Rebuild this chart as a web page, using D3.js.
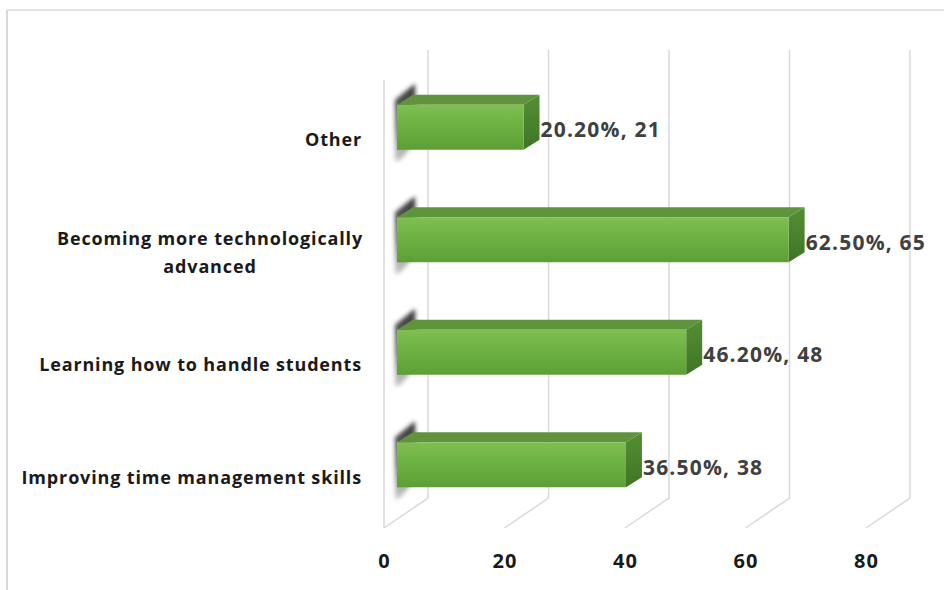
<!DOCTYPE html>
<html>
<head>
<meta charset="utf-8">
<script src="https://cdn.jsdelivr.net/npm/d3@7/dist/d3.min.js"></script>
<style>
  html, body { margin: 0; padding: 0; background: #ffffff; }
  svg { display: block; }
</style>
</head>
<body>
<svg id="chart" width="944" height="590"></svg>
<script>
// Survey responses: share of respondents and head count
const categories = [
  "Other",
  "Becoming more technologically advanced",
  "Learning how to handle students",
  "Improving time management skills"
];
const labelLines = [
  ["Other"],
  ["Becoming more technologically", "advanced"],
  ["Learning how to handle students"],
  ["Improving time management skills"]
];
const counts = [21, 65, 48, 38];
const percents = ["20.20%", "62.50%", "46.20%", "36.50%"];
const ticks = [0, 20, 40, 60, 80];

const svg = d3.select("#chart");
const W = 944, H = 590;
const FONT = "'Open Sans', 'Noto Sans', sans-serif";

// 3D plot geometry: front plane, back wall offset and bar depth slice
const x = d3.scaleLinear().domain([0, 80]).range([384, 866]);
const y = d3.scaleBand().domain(categories).range([71, 521]).paddingInner(0.6).paddingOuter(0.3);
const depth = { dx: 44, dy: -30 };        // front plane -> back wall
const barFront = { dx: 13, dy: 0 };        // bar front face offset from front plane
const barDepth = { dx: 16, dy: -10 };      // bar thickness in depth
const wallTop = 50, wallBottom = 498;

// outer frame (top and left edges)
svg.append("line").attr("x1", 7).attr("y1", 10).attr("x2", W).attr("y2", 10)
  .attr("stroke", "#d9d9d9").attr("stroke-width", 1.5);
svg.append("line").attr("x1", 7).attr("y1", 10).attr("x2", 7).attr("y2", H)
  .attr("stroke", "#d9d9d9").attr("stroke-width", 2);

const defs = svg.append("defs");
const gFront = defs.append("linearGradient").attr("id", "gFront")
  .attr("x1", 0).attr("y1", 0).attr("x2", 0).attr("y2", 1);
gFront.append("stop").attr("offset", "0%").attr("stop-color", "#80bf52");
gFront.append("stop").attr("offset", "45%").attr("stop-color", "#6db143");
gFront.append("stop").attr("offset", "100%").attr("stop-color", "#5e9f35");
const gSide = defs.append("linearGradient").attr("id", "gSide")
  .attr("x1", 0).attr("y1", 0).attr("x2", 0).attr("y2", 1);
gSide.append("stop").attr("offset", "0%").attr("stop-color", "#548f33");
gSide.append("stop").attr("offset", "100%").attr("stop-color", "#3f7526");
const gShadow = defs.append("linearGradient").attr("id", "gShadow")
  .attr("x1", 0).attr("y1", 0).attr("x2", 0).attr("y2", 1);
gShadow.append("stop").attr("offset", "0%").attr("stop-color", "#2a2a2a").attr("stop-opacity", 0.95);
gShadow.append("stop").attr("offset", "55%").attr("stop-color", "#5a5a5a").attr("stop-opacity", 0.85);
gShadow.append("stop").attr("offset", "100%").attr("stop-color", "#a8a8a8").attr("stop-opacity", 0.6);
defs.append("filter").attr("id", "soft").attr("x", "-60%").attr("y", "-30%").attr("width", "220%").attr("height", "160%")
  .append("feGaussianBlur").attr("stdDeviation", 2);

// gridlines: back wall verticals + floor diagonals
const grid = svg.append("g").attr("stroke", "#d9d9d9").attr("stroke-width", 1.5).attr("fill", "none");
ticks.forEach(t => {
  const xf = x(t), xb = x(t) + depth.dx;
  grid.append("path").attr("d", `M${xb},${wallTop} L${xb},${wallBottom} L${xf},${wallBottom - depth.dy}`);
});
// left wall front edge
grid.append("line")
  .attr("x1", x(0)).attr("y1", wallTop - depth.dy)
  .attr("x2", x(0)).attr("y2", wallBottom - depth.dy);

// bars
const bars = svg.append("g");
categories.forEach((c, i) => {
  const v = counts[i];
  const x0 = x(0) + barFront.dx, x1 = x(v) + barFront.dx;
  const yT = y(c), yB = y(c) + y.bandwidth();
  const dx = barDepth.dx, dy = barDepth.dy;
  const g = bars.append("g");
  // dark end cap at the base
  g.append("path")
    .attr("d", `M${x0 - 2},${yT - 5} L${x0 + dx + 2},${yT + dy - 11} L${x0 + dx + 4},${yB + dy} L${x0 + 4},${yB + 10} L${x0 - 2},${yB + 12} Z`)
    .attr("fill", "url(#gShadow)").attr("filter", "url(#soft)");
  // top face
  g.append("path")
    .attr("d", `M${x0},${yT} L${x0 + dx},${yT + dy} L${x1 + dx},${yT + dy} L${x1},${yT} Z`)
    .attr("fill", "#60933d");
  // end face
  g.append("path")
    .attr("d", `M${x1},${yT} L${x1 + dx},${yT + dy} L${x1 + dx},${yB + dy} L${x1},${yB} Z`)
    .attr("fill", "url(#gSide)");
  // front face
  g.append("rect")
    .attr("x", x0).attr("y", yT).attr("width", x1 - x0).attr("height", yB - yT)
    .attr("fill", "url(#gFront)");
  // value label
  svg.append("text")
    .attr("x", x1 + dx + 1).attr("y", (yT + yB) / 2 + 2)
    .attr("dominant-baseline", "central")
    .attr("font-family", FONT).attr("font-weight", 700)
    .attr("font-size", 21).attr("letter-spacing", 1.2).attr("fill", "#404040")
    .text(`${percents[i]}, ${v}`);
});

// category labels
const catG = svg.append("g")
  .attr("font-family", FONT).attr("font-weight", 700)
  .attr("font-size", 18).attr("letter-spacing", 0.85).attr("fill", "#1a1a1a");
categories.forEach((c, i) => {
  const lines = labelLines[i];
  const cy = y(c) + y.bandwidth() / 2 + 12;
  const lh = 28;
  const multi = lines.length > 1;
  const t = catG.append("text")
    .attr("text-anchor", multi ? "middle" : "end")
    .attr("dominant-baseline", "central");
  lines.forEach((ln, k) => {
    t.append("tspan")
      .attr("x", multi ? 210 : 362)
      .attr("y", cy + (k - (lines.length - 1) / 2) * lh)
      .text(ln);
  });
});

// value axis tick labels
const axis = svg.append("g").attr("transform", `translate(0,${wallBottom - depth.dy + 40})`)
  .call(d3.axisBottom(x).tickValues(ticks).tickSize(0).tickPadding(0).tickFormat(d3.format("d")));
axis.select(".domain").remove();
axis.selectAll("text")
  .attr("font-family", FONT).attr("font-weight", 700)
  .attr("font-size", 20).attr("letter-spacing", 1).attr("fill", "#1a1a1a").attr("dy", "0");
</script>
</body>
</html>
